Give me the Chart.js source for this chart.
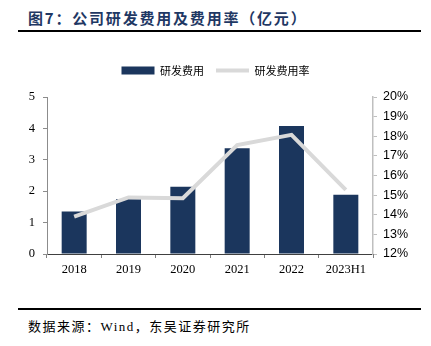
<!DOCTYPE html>
<html lang="zh">
<head>
    <meta charset="UTF-8">
    <title>公司研发费用及费用率</title>
    <script src="https://cdn.jsdelivr.net/npm/chart.js"></script>
    <style>
        body {
            margin: 0;
            width: 431px;
            height: 346px;
            background: #fff;
            position: relative;
            overflow: hidden;
        }
        .title {
            position: absolute;
            left: 28px;
            top: 7px;
            font-family: 'Noto Sans CJK SC', sans-serif;
            font-weight: bold;
            font-size: 15px;
            letter-spacing: 1.8px;
            color: #1F3864;
            white-space: nowrap;
        }
        .rule {
            position: absolute;
            left: 18px;
            width: 403px;
            height: 2px;
            background: #000;
        }
        .source {
            position: absolute;
            left: 28px;
            top: 316px;
            font-family: 'Liberation Serif', 'Noto Sans CJK SC', serif;
            font-size: 13px;
            letter-spacing: 1.5px;
            color: #000;
            white-space: nowrap;
        }
        .chart-box {
            position: absolute;
            left: 0;
            top: 40px;
            width: 431px;
            height: 245px;
        }
    </style>
</head>
<body>
    <div class="title">图7：公司研发费用及费用率（亿元）</div>
    <div class="rule" style="top: 30px;"></div>
    <div class="chart-box"><canvas id="rdChart"></canvas></div>
    <div class="rule" style="top: 308px;"></div>
    <div class="source">数据来源：Wind，东吴证券研究所</div>

    <script>
        const years = ['2018', '2019', '2020', '2021', '2022', '2023H1'];
        const rdExpense = [1.35, 1.75, 2.14, 3.37, 4.08, 1.89];   // 亿元
        const rdRate = [13.9, 14.88, 14.84, 17.55, 18.07, 15.27];  // %

        const navy = '#1B365D';
        const lightGray = '#D9D9D9';

        // extra gap below the legend
        const legendGap = {
            id: 'legendGap',
            beforeInit(chart) {
                const fit = chart.legend.fit;
                chart.legend.fit = function () {
                    fit.bind(chart.legend)();
                    this.height += 11;
                };
            }
        };

        new Chart(document.getElementById('rdChart'), {
            data: {
                labels: years,
                datasets: [{
                    type: 'bar',
                    label: '研发费用',
                    data: rdExpense,
                    backgroundColor: navy,
                    borderWidth: 0,
                    barPercentage: 0.92,
                    categoryPercentage: 0.5,
                    pointStyle: 'rect',
                    yAxisID: 'y',
                    order: 1
                }, {
                    type: 'line',
                    label: '研发费用率',
                    data: rdRate,
                    borderColor: lightGray,
                    backgroundColor: lightGray,
                    borderWidth: 4,
                    pointRadius: 0,
                    pointStyle: 'line',
                    tension: 0,
                    yAxisID: 'y1',
                    order: 0
                }]
            },
            options: {
                responsive: true,
                maintainAspectRatio: false,
                animation: false,
                layout: { padding: { top: 13, left: 0, right: 0, bottom: 0 } },
                plugins: {
                    tooltip: { enabled: false },
                    legend: {
                        position: 'top',
                        labels: {
                            usePointStyle: true,
                            pointStyleWidth: 33,
                            boxHeight: 8,
                            padding: 12,
                            color: '#000',
                            font: { family: "'Noto Sans CJK SC', sans-serif", size: 11 },
                            sort: (a, b) => a.datasetIndex - b.datasetIndex
                        }
                    }
                },
                scales: {
                    x: {
                        grid: {
                            drawOnChartArea: false,
                            tickLength: 4,
                            color: '#7F7F7F'
                        },
                        border: { color: '#404040', width: 1 },
                        ticks: {
                            color: '#000',
                            padding: 4,
                            font: { family: "'Liberation Serif', serif", size: 12.5 }
                        },
                        afterFit: (scale) => { scale.height = 31; }
                    },
                    y: {
                        position: 'left',
                        min: 0,
                        max: 5,
                        grid: {
                            drawOnChartArea: false,
                            tickLength: 4,
                            color: '#8C8C8C'
                        },
                        border: { color: '#8C8C8C', width: 1 },
                        ticks: {
                            stepSize: 1,
                            color: '#000',
                            padding: 8,
                            font: { family: "'Liberation Serif', serif", size: 12.5 }
                        },
                        afterFit: (scale) => { scale.width = 47; }
                    },
                    y1: {
                        position: 'right',
                        min: 12,
                        max: 20,
                        grid: {
                            drawOnChartArea: false,
                            tickLength: 4,
                            color: '#BFBFBF'
                        },
                        border: { color: '#BFBFBF', width: 1.5 },
                        ticks: {
                            stepSize: 1,
                            color: '#000',
                            padding: 6,
                            font: { family: "'Liberation Sans', sans-serif", size: 12.5 },
                            callback: (v) => v + '%'
                        },
                        afterFit: (scale) => { scale.width = 58; }
                    }
                }
            },
            plugins: [legendGap]
        });
    </script>
</body>
</html>
